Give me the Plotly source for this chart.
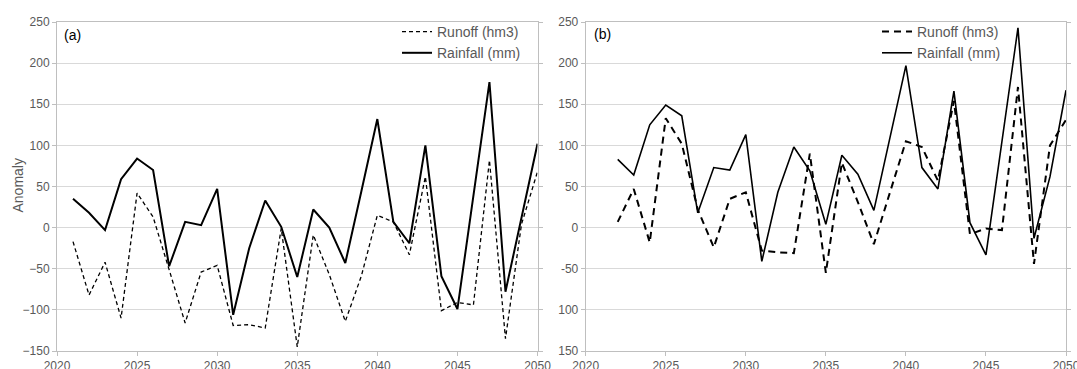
import plotly.graph_objects as go
from plotly.subplots import make_subplots

years_a = list(range(2021, 2051))
rain_a = [35, 18, -3, 59, 84, 70, -47, 7, 3, 47,
          -106, -25, 33, 1, -60, 22, 0, -43, 44, 132,
          7, -19, 100, -59, -99, 40, 177, -78, 12, 102]
runoff_a = [-17, -82, -42, -110, 42, 13, -51, -116, -54, -46,
            -119, -118, -122, -1, -145, -9, -57, -114, -59, 15,
            7, -33, 62, -101, -91, -94, 82, -135, 4, 68]

years_b = list(range(2022, 2051))
rain_b = [83, 64, 125, 149, 136, 18, 73, 70, 113,
          -41, 43, 98, 69, 4, 88, 65, 21, 110, 197,
          73, 47, 166, 6, -33, 106, 243, -13, 62, 167]
runoff_b = [7, 47, -18, 133, 102, 22, -24, 35, 43,
            -28, -30, -31, 90, -55, 79, 31, -20, 42, 105,
            98, 57, 154, -8, -1, -3, 171, -44, 100, 131]

y_ticks = [-150, -100, -50, 0, 50, 100, 150, 200, 250]
y_ticktext_b = ["150", "100", "-50", "0", "50", "100", "150", "200", "250"]
x_ticks = [2020, 2025, 2030, 2035, 2040, 2045, 2050]
panel_labels = ["(a)", "(b)"]
series_names = ["Runoff (hm3)", "Rainfall (mm)"]
y_title = "Anomaly"

W, H = 1077, 369
GREY_TXT = "#595959"
GRID = "#d9d9d9"
AXIS = "#bfbfbf"
FONT = "Liberation Sans, Arial, sans-serif"

fig = make_subplots(rows=1, cols=2)

fig.add_trace(go.Scatter(x=years_a, y=runoff_a, mode="lines", name=series_names[0],
                         line=dict(color="black", width=1.3, dash="4px,3px"),
                         legend="legend"), row=1, col=1)
fig.add_trace(go.Scatter(x=years_a, y=rain_a, mode="lines", name=series_names[1],
                         line=dict(color="black", width=2), legend="legend"), row=1, col=1)
fig.add_trace(go.Scatter(x=years_b, y=runoff_b, mode="lines", name=series_names[0],
                         line=dict(color="black", width=2, dash="7px,5px"),
                         legend="legend2"), row=1, col=2)
fig.add_trace(go.Scatter(x=years_b, y=rain_b, mode="lines", name=series_names[1],
                         line=dict(color="black", width=1.6), legend="legend2"), row=1, col=2)

xd1 = [57 / W, 537.5 / W]
xd2 = [585.7 / W, 1066 / W]
yd = [18 / H, 347 / H]

common_x = dict(range=[2020, 2050], tickvals=x_ticks, showgrid=False, showline=True,
                linecolor=AXIS, linewidth=1, mirror=True, ticks="outside", ticklen=4,
                tickcolor=AXIS, tickfont=dict(size=12, color=GREY_TXT, family=FONT),
                zeroline=False, automargin=False, ticklabeloverflow="allow")
common_y = dict(range=[-150, 250], tickvals=y_ticks, showgrid=True, gridcolor=GRID,
                gridwidth=1, showline=True, linecolor=AXIS, linewidth=1, mirror="ticks",
                ticks="outside", ticklen=4, tickcolor=AXIS,
                tickfont=dict(size=12, color=GREY_TXT, family=FONT), zeroline=False,
                automargin=False, ticklabeloverflow="allow")

fig.update_layout(
    width=W, height=H,
    margin=dict(l=0, r=0, t=0, b=0, autoexpand=False),
    paper_bgcolor="white", plot_bgcolor="white",
    font=dict(family=FONT, color=GREY_TXT),
    xaxis=dict(domain=xd1, **common_x),
    xaxis2=dict(domain=xd2, **common_x),
    yaxis=dict(domain=yd, **common_y),
    yaxis2=dict(domain=yd, ticktext=y_ticktext_b, **common_y),
    legend=dict(x=526 / W, y=1 - 16 / H, xanchor="right", yanchor="top",
                bgcolor="rgba(0,0,0,0)", font=dict(size=14, color=GREY_TXT, family=FONT),
                tracegroupgap=0, itemwidth=30),
    legend2=dict(x=1006 / W, y=1 - 16 / H, xanchor="right", yanchor="top",
                 bgcolor="rgba(0,0,0,0)", font=dict(size=14, color=GREY_TXT, family=FONT),
                 tracegroupgap=0, itemwidth=30),
    showlegend=True,
)

fig.add_annotation(text=y_title, xref="paper", yref="paper", x=17.5 / W, y=1 - 186 / H,
                   xanchor="center", yanchor="middle", textangle=-90, showarrow=False,
                   font=dict(size=14, color=GREY_TXT, family=FONT))
fig.add_annotation(text=panel_labels[0], xref="x domain", yref="y domain", x=0.01, y=0.96,
                   xanchor="left", yanchor="middle", showarrow=False,
                   font=dict(size=14, color="black", family=FONT))
fig.add_annotation(text=panel_labels[1], xref="x2 domain", yref="y2 domain", x=0.013, y=0.965,
                   xanchor="left", yanchor="middle", showarrow=False,
                   font=dict(size=14, color="black", family=FONT))

fig.write_html("out.html", config={"displayModeBar": False},
               post_script="document.body.style.margin='0';")
